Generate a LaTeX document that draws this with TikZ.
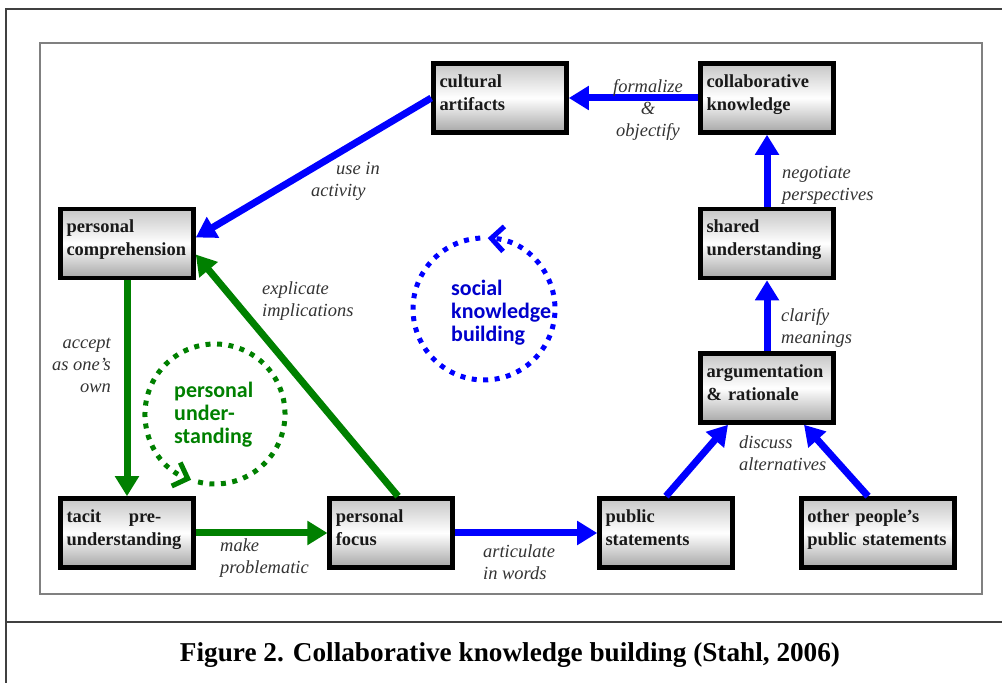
\documentclass[tikz,border=0pt]{standalone}
\usepackage{fontspec}
\setmainfont{Liberation Serif}
\newfontfamily\loopfont{Carlito}
\usetikzlibrary{arrows.meta}
\usetikzlibrary{positioning}

\begin{document}
\begin{tikzpicture}[stage/.style={
			draw=black,
			line width=2.6pt,
			top color=gray!45,
			bottom color=gray!70,
			middle color=white,
			minimum width=2.66cm,
			minimum height=1.38cm,
			text width=2.42cm,
			inner xsep=0.12cm,
			inner ysep=3pt,
			text height=10pt,
			text depth=22pt,
			align=left,
			text=black!90,
			font=\bfseries\fontsize{10.5}{13}\selectfont
		},
		blueflow/.style={draw=blue, line width=0.14cm, -{Triangle[length=0.4cm, width=0.46cm]}},
		greenflow/.style={draw=green!50!black, line width=0.14cm, -{Triangle[length=0.4cm, width=0.46cm]}},
		verb/.style={text=black!80, font=\itshape\fontsize{10.5}{12.5}\selectfont},
		loopblue/.style={draw=blue, line width=0.1cm, dash pattern=on 0.1cm off 0.13cm, -{Straight Barb[length=0.25cm, width=0.5cm]}},
		loopgreen/.style={draw=green!50!black, line width=0.1cm, dash pattern=on 0.1cm off 0.13cm, -{Straight Barb[length=0.25cm, width=0.5cm]}},
		looptext/.style={anchor=west, align=left, font=\loopfont\bfseries\fontsize{12.5}{13.1}\selectfont}]
		\useasboundingbox (0,0) rectangle (20.04,13.66);
		
		\draw[black!75, line width=1.2pt] (0.12,0) -- (0.12,13.48) -- (20.04,13.48);
		\draw[black!75, line width=1.2pt] (0.12,1.22) -- (20.04,1.22);
		\draw[gray, line width=1pt] (0.8,1.78) rectangle (19.64,12.8);
		
		\node at (10.0, 11.7)[stage](cult){cultural\\artifacts};
		\node at (15.34, 11.7)[stage](collab){collaborative\\knowledge};
		\node at (2.54, 8.79)[stage](pcomp){personal\\comprehension};
		\node at (15.34, 8.79)[stage](shared){shared\\understanding};
		\node at (15.34, 5.9)[stage](argu){argumentation\\\& rationale};
		\node at (2.54, 3.0)[stage](tacit){tacit\hspace{0.55cm}pre-\\understanding};
		\node at (7.82, 3.0)[stage, minimum width=2.45cm, text width=2.21cm](pfocus){personal\\focus};
		\node at (13.32, 3.0)[stage](pubst){public\\statements};
		\node at (17.56, 3.0)[stage, minimum width=3.07cm, text width=2.83cm](others){other people's\\public statements};
		
		\draw[blueflow] (collab.west) -- (cult.east);
		\draw[blueflow] (cult.west) -- ([yshift=0.12cm]pcomp.east);
		\draw[greenflow] (pcomp.south) -- (tacit.north);
		\draw[greenflow] (tacit.east) -- (pfocus.west);
		\draw[greenflow] ([xshift=0.14cm]pfocus.north) -- ([yshift=-0.22cm]pcomp.east);
		\draw[blueflow] (pfocus.east) -- (pubst.west);
		\draw[blueflow] (pubst.north) -- ([xshift=-0.78cm]argu.south);
		\draw[blueflow] ([xshift=-0.2cm]others.north) -- ([xshift=0.74cm]argu.south);
		\draw[blueflow] (argu.north) -- (shared.south);
		\draw[blueflow] (shared.north) -- (collab.south);
		
		\node at (12.96, 11.46)[verb, align=center](formal){formalize\\\&\\objectify};
		\node at (6.1, 10.04)[verb, anchor=west, align=left](usein){\hspace*{0.5cm}use in\\activity};
		\node at (2.34, 6.36)[verb, anchor=east, align=right](accept){accept\\as one's\\own};
		\node at (4.28, 2.5)[verb, anchor=west, align=left](makep){make\\problematic};
		\node at (5.12, 7.64)[verb, anchor=west, align=left](explic){explicate\\implications};
		\node at (9.54, 2.42)[verb, anchor=west, align=left](artic){articulate\\in words};
		\node at (14.66, 4.6)[verb, anchor=west, align=left](discuss){discuss\\alternatives};
		\node at (15.5, 7.1)[verb, anchor=west, align=left](clarify){clarify\\meanings};
		\node at (15.52, 9.96)[verb, anchor=west, align=left](negot){negotiate\\perspectives};
		
		\coordinate (sloop) at (9.68, 7.48);
		\coordinate (ploop) at (4.30, 5.38);
		\draw[loopblue] (sloop) ++(93:1.42cm) arc[start angle=93, end angle=447, radius=1.42cm];
		\draw[loopgreen] (ploop) ++(256:1.4cm) arc[start angle=256, end angle=610, radius=1.4cm];
		\node at (8.9, 7.4)[looptext, text=blue!80!black](sktext){social\\knowledge\\building};
		\node at (3.36, 5.36)[looptext, text=green!50!black](putext){personal\\under-\\standing};
		
		\node at (10.2, 0.56)(caption){\bfseries\fontsize{15.5}{18}\selectfont Figure 2. Collaborative knowledge building (Stahl, 2006)};
	\end{tikzpicture}
\end{document}
